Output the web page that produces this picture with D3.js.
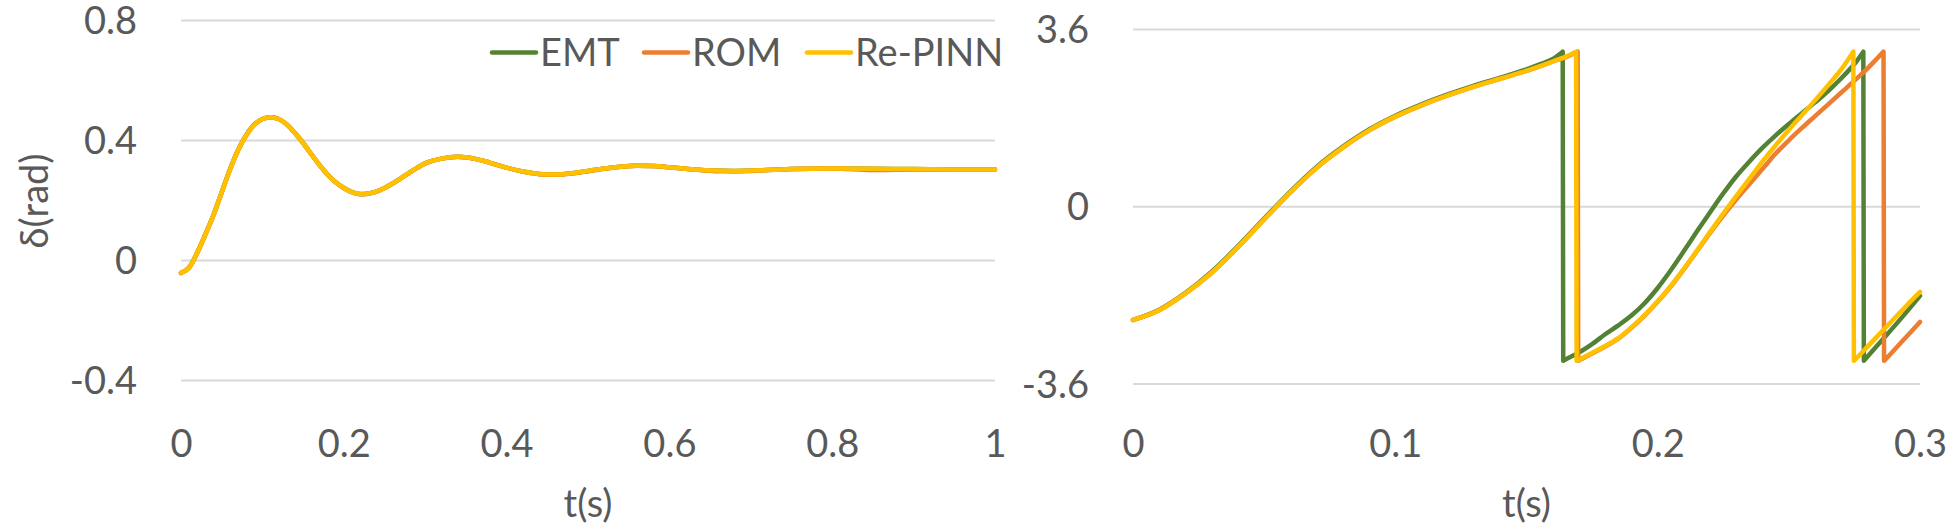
<!DOCTYPE html>
<html><head><meta charset="utf-8">
<script src="https://cdn.jsdelivr.net/npm/d3@7"></script>
<style>
body{margin:0;background:#fff}
svg{display:block}
text{font-family:Lato,'Open Sans',sans-serif;fill:#595959}
</style>
</head><body>
<svg id="c" width="1949" height="528"></svg>
<script>
// ---------- data ----------
const seriesNames = ["EMT", "ROM", "Re-PINN"];
const seriesColors = ["#548235", "#ED7D31", "#FFC000"];

// left panel: rotor angle delta (rad) vs t (s)
const leftT = [0,0.01,0.02,0.03,0.04,0.05,0.06,0.07,0.08,0.09,0.10,0.11,0.12,0.13,0.14,0.15,0.16,0.17,0.18,0.19,0.20,0.21,0.22,0.23,0.24,0.25,0.26,0.27,0.28,0.29,0.30,0.32,0.34,0.36,0.38,0.40,0.42,0.44,0.46,0.48,0.50,0.52,0.54,0.56,0.58,0.60,0.62,0.64,0.66,0.68,0.70,0.72,0.75,0.80,0.85,0.90,0.95,1.00];
const leftEMT = [-0.043,-0.025,0.025,0.086,0.151,0.226,0.301,0.366,0.416,0.451,0.470,0.476,0.470,0.452,0.423,0.390,0.353,0.317,0.285,0.259,0.240,0.226,0.220,0.222,0.228,0.240,0.255,0.272,0.290,0.307,0.322,0.338,0.344,0.338,0.324,0.308,0.295,0.287,0.285,0.289,0.297,0.305,0.311,0.314,0.313,0.309,0.304,0.300,0.298,0.297,0.298,0.300,0.303,0.305,0.304,0.303,0.302,0.302];
const leftROM = [-0.043,-0.025,0.024,0.085,0.150,0.225,0.300,0.365,0.415,0.450,0.470,0.476,0.470,0.452,0.423,0.390,0.353,0.317,0.285,0.259,0.240,0.226,0.219,0.221,0.228,0.240,0.255,0.272,0.290,0.307,0.322,0.338,0.344,0.338,0.324,0.308,0.295,0.286,0.284,0.288,0.296,0.304,0.311,0.314,0.313,0.309,0.304,0.299,0.296,0.296,0.297,0.300,0.303,0.305,0.300,0.302,0.302,0.302];
const leftPINN = [-0.042,-0.025,0.025,0.085,0.150,0.225,0.300,0.365,0.415,0.450,0.470,0.476,0.470,0.452,0.423,0.390,0.353,0.317,0.285,0.259,0.240,0.226,0.220,0.222,0.228,0.240,0.255,0.272,0.290,0.307,0.322,0.338,0.344,0.338,0.324,0.308,0.295,0.287,0.285,0.289,0.297,0.305,0.311,0.314,0.313,0.309,0.304,0.300,0.298,0.297,0.298,0.300,0.303,0.305,0.304,0.303,0.302,0.302];
const leftXTicks = [0, 0.2, 0.4, 0.6, 0.8, 1];
const leftYTicks = [-0.4, 0, 0.4, 0.8];

// right panel: wrapped angle vs t (s)
const rightT_EMT = [0,0.01,0.02,0.03,0.04,0.05,0.06,0.07,0.08,0.09,0.10,0.11,0.12,0.13,0.14,0.15,0.155,0.16,0.1638,0.164,0.165,0.17,0.175,0.18,0.185,0.19,0.195,0.20,0.205,0.21,0.215,0.22,0.225,0.23,0.235,0.24,0.245,0.25,0.255,0.26,0.265,0.27,0.275,0.2784,0.2786,0.285,0.29,0.295,0.30];
const rightEMT = [-2.31,-2.10,-1.76,-1.33,-0.81,-0.25,0.30,0.80,1.21,1.56,1.84,2.07,2.27,2.45,2.61,2.78,2.88,2.99,3.14,-3.14,-3.11,-2.97,-2.80,-2.60,-2.42,-2.22,-1.97,-1.66,-1.30,-0.91,-0.51,-0.12,0.26,0.61,0.91,1.19,1.44,1.67,1.89,2.11,2.34,2.60,2.89,3.14,-3.14,-2.75,-2.45,-2.14,-1.82];
const rightT_ROM = [0,0.01,0.02,0.03,0.04,0.05,0.06,0.07,0.08,0.09,0.10,0.11,0.12,0.13,0.14,0.15,0.155,0.16,0.165,0.1695,0.1697,0.175,0.18,0.185,0.19,0.195,0.20,0.205,0.21,0.215,0.22,0.225,0.23,0.235,0.24,0.245,0.25,0.255,0.26,0.265,0.27,0.275,0.28,0.2861,0.2863,0.29,0.295,0.30];
const rightROM = [-2.31,-2.11,-1.77,-1.35,-0.83,-0.27,0.28,0.78,1.19,1.54,1.82,2.05,2.25,2.43,2.59,2.75,2.84,2.94,3.03,3.14,-3.14,-2.99,-2.85,-2.69,-2.47,-2.22,-1.94,-1.63,-1.28,-0.91,-0.54,-0.19,0.14,0.45,0.76,1.07,1.34,1.59,1.83,2.07,2.31,2.55,2.80,3.14,-3.14,-2.93,-2.64,-2.35];
const rightT_PINN = [0,0.01,0.02,0.03,0.04,0.05,0.06,0.07,0.08,0.09,0.10,0.11,0.12,0.13,0.14,0.15,0.155,0.16,0.165,0.1689,0.1691,0.175,0.18,0.185,0.19,0.195,0.20,0.205,0.21,0.215,0.22,0.225,0.23,0.235,0.24,0.245,0.25,0.255,0.26,0.265,0.27,0.2746,0.2748,0.28,0.285,0.29,0.295,0.30];
const rightPINN = [-2.31,-2.11,-1.77,-1.35,-0.83,-0.27,0.28,0.78,1.19,1.54,1.82,2.05,2.25,2.43,2.59,2.75,2.84,2.94,3.04,3.14,-3.14,-2.98,-2.84,-2.68,-2.46,-2.21,-1.93,-1.62,-1.27,-0.90,-0.52,-0.15,0.21,0.56,0.91,1.24,1.55,1.85,2.15,2.46,2.78,3.14,-3.14,-2.85,-2.57,-2.29,-2.01,-1.74];
const rightXTicks = [0, 0.1, 0.2, 0.3];
const rightYTicks = [-3.6, 0, 3.6];

// ---------- layout ----------
const FS = 38;
const svg = d3.select("#c");
const grid = "#d9d9d9";

function panel(opts) {
  const {x, y, xTicks, yTicks, xFmt, series, smoothSplit} = opts;
  const g = svg.append("g");
  const [x0, x1] = x.range();
  // gridlines + y labels
  const ya = d3.axisLeft(y).tickValues(yTicks).tickSize(-(x1 - x0)).tickPadding(44)
    .tickFormat(d => String(d));
  const yg = g.append("g").attr("transform", `translate(${x0},0)`).call(ya);
  yg.select(".domain").remove();
  yg.selectAll(".tick line").attr("stroke", grid).attr("stroke-width", 2);
  yg.selectAll(".tick text").attr("fill", "#595959").style("font-size", FS + "px")
    .attr("dy", null).attr("y", 13.5);
  yg.attr("font-family", null).attr("font-size", null);
  // x labels
  const xa = d3.axisBottom(x).tickValues(xTicks).tickSize(0).tickFormat(xFmt);
  const xg = g.append("g").call(xa);
  xg.select(".domain").remove();
  xg.selectAll(".tick text").attr("fill", "#595959").style("font-size", FS + "px")
    .attr("dy", null).attr("y", 457);
  xg.attr("font-family", null).attr("font-size", null);
  // axis title
  g.append("text").attr("x", (x0 + x1) / 2).attr("y", 517).attr("text-anchor", "middle")
    .style("font-size", FS + "px").text("t(s)");
  // series
  series.forEach((s, i) => {
    const pts = s.t.map((t, k) => [t, s.v[k]]);
    let d;
    if (smoothSplit) {
      const segs = [];
      let cur = [pts[0]];
      for (let k = 1; k < pts.length; k++) {
        if (Math.abs(pts[k][1] - pts[k - 1][1]) > 4) { segs.push(cur); cur = []; }
        cur.push(pts[k]);
      }
      segs.push(cur);
      const lg = d3.line().x(p => x(p[0])).y(p => y(p[1])).curve(d3.curveCatmullRom.alpha(0.5));
      d = segs.map((sg, j) => { const p = lg(sg); return j ? p.replace(/^M/, "L") : p; }).join("");
    } else {
      d = d3.line().x(p => x(p[0])).y(p => y(p[1])).curve(d3.curveMonotoneX)(pts);
    }
    g.append("path").attr("d", d).attr("fill", "none").attr("stroke", seriesColors[i])
      .attr("stroke-width", 4.5).attr("stroke-linejoin", "round").attr("stroke-linecap", "round");
  });
  return g;
}

const lx = d3.scaleLinear().domain([0, 1]).range([181, 995]);
const ly = d3.scaleLinear().domain([-0.4, 0.8]).range([380, 20]);
const left = panel({
  x: lx, y: ly, xTicks: leftXTicks, yTicks: leftYTicks, xFmt: d => String(d),
  series: [{t: leftT, v: leftEMT}, {t: leftT, v: leftROM}, {t: leftT, v: leftPINN}],
  smoothSplit: false
});
left.append("text").attr("transform", "translate(48,201) rotate(-90)").attr("text-anchor", "middle")
  .style("font-size", FS + "px").text("δ(rad)");

const rx = d3.scaleLinear().domain([0, 0.3]).range([1133, 1920]);
const ry = d3.scaleLinear().domain([-3.6, 3.6]).range([383.5, 29]);
panel({
  x: rx, y: ry, xTicks: rightXTicks, yTicks: rightYTicks, xFmt: d => String(d),
  series: [{t: rightT_EMT, v: rightEMT}, {t: rightT_ROM, v: rightROM}, {t: rightT_PINN, v: rightPINN}],
  smoothSplit: true
});

// legend
const legendX = [492, 644, 807];
const leg = svg.append("g");
seriesNames.forEach((n, i) => {
  leg.append("line").attr("x1", legendX[i]).attr("x2", legendX[i] + 44).attr("y1", 52.5).attr("y2", 52.5)
    .attr("stroke", seriesColors[i]).attr("stroke-width", 4.5).attr("stroke-linecap", "round");
  leg.append("text").attr("x", legendX[i] + 48).attr("y", 65.5).style("font-size", FS + "px").text(n);
});
</script>
</body></html>
